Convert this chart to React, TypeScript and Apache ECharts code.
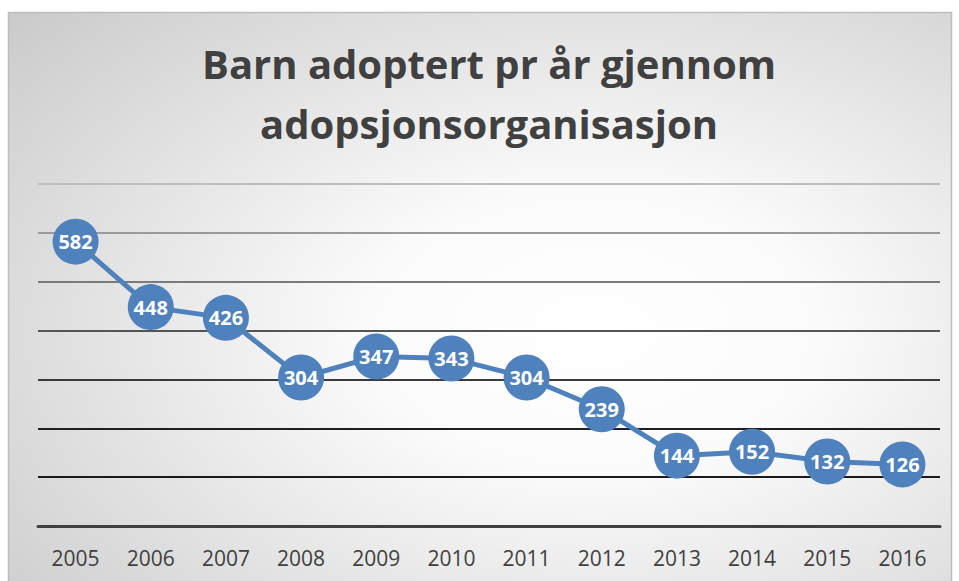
import React, { useEffect, useRef } from "react";
import * as echarts from "echarts";

const years = ["2005", "2006", "2007", "2008", "2009", "2010", "2011", "2012", "2013", "2014", "2015", "2016"];
const adopted = [582, 448, 426, 304, 347, 343, 304, 239, 144, 152, 132, 126];
const gridColors = ["#404040", "#1a1a1a", "#1f1f1f", "#3a3a3a", "#555555", "#7a7a7a", "#9a9a9a", "#bdbdbd"];
const titleText = "Barn adoptert pr år gjennom\nadopsjonsorganisasjon";

export default function App() {
  const ref = useRef<HTMLDivElement>(null);
  useEffect(() => {
    document.body.style.margin = "0";
    const chart = echarts.init(ref.current!, undefined, { renderer: "svg" });
    chart.setOption({
      animation: false,
      backgroundColor: "#ffffff",
      graphic: [
        {
          type: "rect",
          z: -10,
          silent: true,
          shape: { x: 8.5, y: 12.5, width: 943, height: 580 },
          style: {
            fill: {
              type: "radial",
              x: 0.62,
              y: 0.55,
              r: 0.95,
              colorStops: [
                { offset: 0, color: "#ffffff" },
                { offset: 0.25, color: "#fbfbfb" },
                { offset: 1, color: "#c0c0c0" },
              ],
            },
            stroke: "#bdbdbd",
            lineWidth: 1.5,
          },
        },
      ],
      title: {
        text: titleText,
        left: 484,
        textAlign: "center",
        top: 28,
        textStyle: {
          fontFamily: "Open Sans",
          fontWeight: "bold",
          fontSize: 40,
          lineHeight: 60,
          color: "#404040",
        },
      },
      grid: { left: 38, right: 19, top: 184, bottom: 55 },
      xAxis: {
        type: "category",
        data: years,
        axisLine: { show: true, lineStyle: { color: "#404040", width: 3 } },
        axisTick: { show: false },
        axisLabel: { fontFamily: "Open Sans", fontSize: 21, color: "#404040", margin: 21 },
      },
      yAxis: {
        type: "value",
        min: 0,
        max: 700,
        interval: 100,
        axisLine: { show: false },
        axisTick: { show: false },
        axisLabel: { show: false },
        splitLine: { show: true, lineStyle: { color: gridColors, width: 2 } },
      },
      series: [
        {
          type: "line",
          data: adopted,
          symbol: "circle",
          symbolSize: 46,
          itemStyle: { color: "#4f81bd" },
          lineStyle: { color: "#4f81bd", width: 5 },
          label: {
            show: true,
            position: "inside",
            color: "#ffffff",
            fontFamily: "Open Sans",
            fontWeight: "bold",
            fontSize: 20,
          },
        },
      ],
    });
    return () => chart.dispose();
  }, []);
  return <div ref={ref} style={{ width: 959, height: 581 }} />;
}
